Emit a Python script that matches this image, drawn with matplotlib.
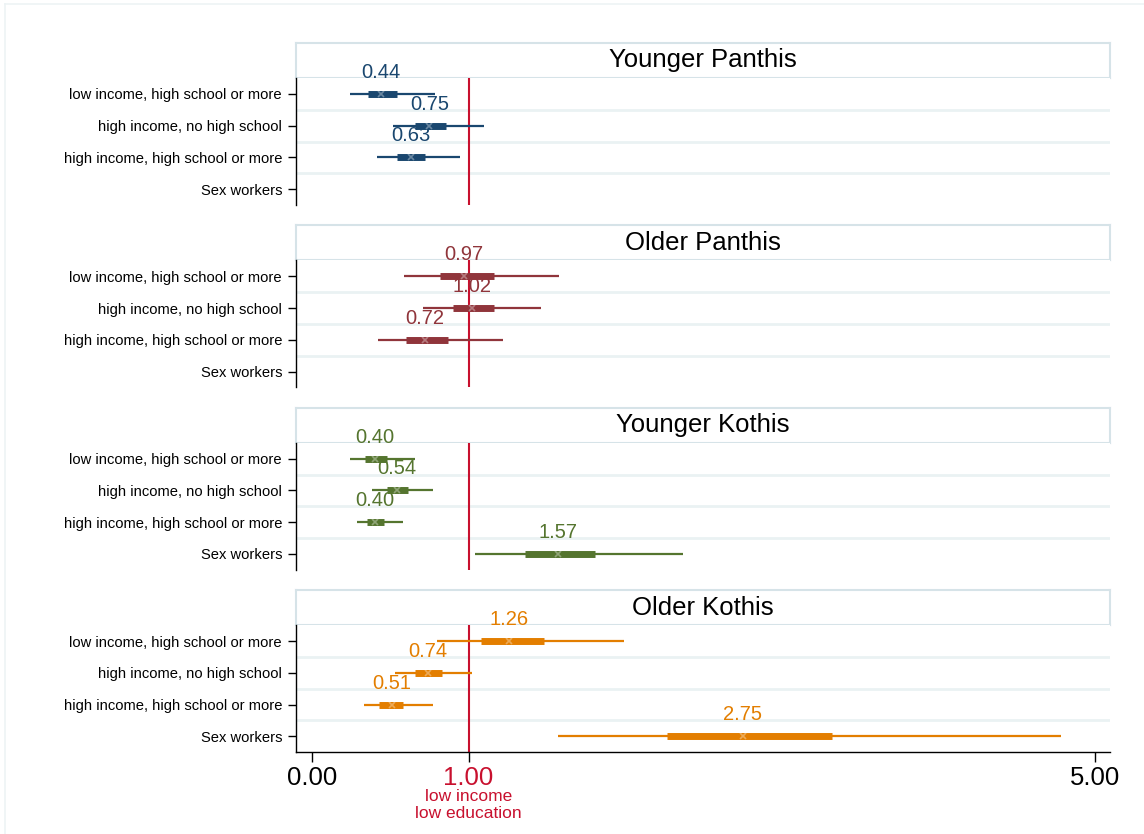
import numpy as np
import matplotlib.pyplot as plt
from matplotlib.lines import Line2D

plt.rcParams['font.family'] = ['Liberation Sans', 'DejaVu Sans']

# data
row_labels = ["low income, high school or more", "high income, no high school",
              "high income, high school or more", "Sex workers"]
groups = ["Younger Panthis", "Older Panthis", "Younger Kothis", "Older Kothis"]
colors = ["#1a476f", "#90353b", "#55752f", "#e37e00"]

est = [[0.44, 0.75, 0.63, np.nan],
       [0.97, 1.02, 0.72, np.nan],
       [0.40, 0.54, 0.40, 1.57],
       [1.26, 0.74, 0.51, 2.75]]
ci_lo = [[0.24, 0.515, 0.415, np.nan],
         [0.59, 0.71, 0.42, np.nan],
         [0.24, 0.38, 0.285, 1.04],
         [0.80, 0.53, 0.33, 1.57]]
ci_hi = [[0.785, 1.10, 0.945, np.nan],
         [1.58, 1.46, 1.22, np.nan],
         [0.66, 0.77, 0.58, 2.37],
         [1.99, 1.02, 0.77, 4.78]]
in_lo = [[0.36, 0.66, 0.545, np.nan],
         [0.82, 0.90, 0.60, np.nan],
         [0.34, 0.48, 0.35, 1.36],
         [1.08, 0.66, 0.43, 2.27]]
in_hi = [[0.54, 0.855, 0.72, np.nan],
         [1.16, 1.16, 0.87, np.nan],
         [0.48, 0.61, 0.46, 1.81],
         [1.48, 0.83, 0.58, 3.32]]
xticks = [0, 1, 5]
xtick_labels = ["0.00", "1.00", "5.00"]

W, H = 1144, 834
fig = plt.figure(figsize=(W / 100, H / 100), dpi=100)
fig.patch.set_facecolor("white")

# faint outer frame
fig.add_artist(Line2D([5 / W, 5 / W], [0, 1 - 4 / H], transform=fig.transFigure,
                      color="#edf3f5", lw=1.2))
fig.add_artist(Line2D([5 / W, 1], [1 - 4 / H, 1 - 4 / H], transform=fig.transFigure,
                      color="#edf3f5", lw=1.2))

red = "#c8102e"
grid_c = "#eaf2f3"
left_px, right_px = 296, 1110
xlim = ((296 - 312) / 156.6, (1110 - 312) / 156.6)
ypos = np.arange(1, 5)

for g in range(4):
    top = 78 + 182.4 * g
    bot = top + 127
    # header box
    hax = fig.add_axes([left_px / W, 1 - top / H, (right_px - left_px) / W, 35 / H])
    hax.set_xticks([])
    hax.set_yticks([])
    hax.set_facecolor("white")
    for s in hax.spines.values():
        s.set_color("#d6e3e8")
        s.set_linewidth(1.5)
    hax.text(0.5, 0.5, groups[g], ha="center", va="center", fontsize=18.5,
             transform=hax.transAxes)

    ax = fig.add_axes([left_px / W, 1 - bot / H, (right_px - left_px) / W, 127 / H])
    ax.set_xlim(*xlim)
    ax.set_ylim(4.5, 0.5)
    for y in [1.5, 2.5, 3.5]:
        ax.axhline(y, color=grid_c, lw=2, zorder=0)
    ax.axvline(1, color=red, lw=1.5, zorder=1)

    c = colors[g]
    e = np.array(est[g])
    ok = ~np.isnan(e)
    ax.hlines(ypos[ok], np.array(ci_lo[g])[ok], np.array(ci_hi[g])[ok], color=c, lw=1.6, zorder=2)
    ax.hlines(ypos[ok], np.array(in_lo[g])[ok], np.array(in_hi[g])[ok], color=c, lw=5, zorder=3)
    ax.plot(e[ok], ypos[ok], linestyle="none", marker="x", ms=4, mew=1.2,
            color="white", alpha=0.35, zorder=4)
    for y, v in zip(ypos[ok], e[ok]):
        ax.annotate(f"{v:.2f}", (v, y), xytext=(0, 11.5), textcoords="offset points",
                    ha="center", va="baseline", color=c, fontsize=14.5, zorder=1)

    ax.set_yticks(ypos)
    ax.set_yticklabels(row_labels, fontsize=10.6)
    ax.tick_params(axis="y", length=6, width=1, pad=4)
    for s in ["top", "right"]:
        ax.spines[s].set_visible(False)
    ax.spines["left"].set_linewidth(1)

    if g < 3:
        ax.spines["bottom"].set_visible(False)
        ax.set_xticks([])
    else:
        ax.spines["bottom"].set_linewidth(1)
        ax.set_xticks(xticks)
        ax.set_xticklabels(xtick_labels, fontsize=18.5)
        ax.tick_params(axis="x", length=7, width=1, pad=3)
        ax.get_xticklabels()[1].set_color(red)
        ax.annotate("low income\nlow education", xy=(1, 0), xycoords=("data", "axes fraction"),
                    xytext=(0, -26.5), textcoords="offset points", ha="center", va="top",
                    color=red, fontsize=12.5, linespacing=1.2, annotation_clip=False)

fig.savefig("out.png", dpi=100)
